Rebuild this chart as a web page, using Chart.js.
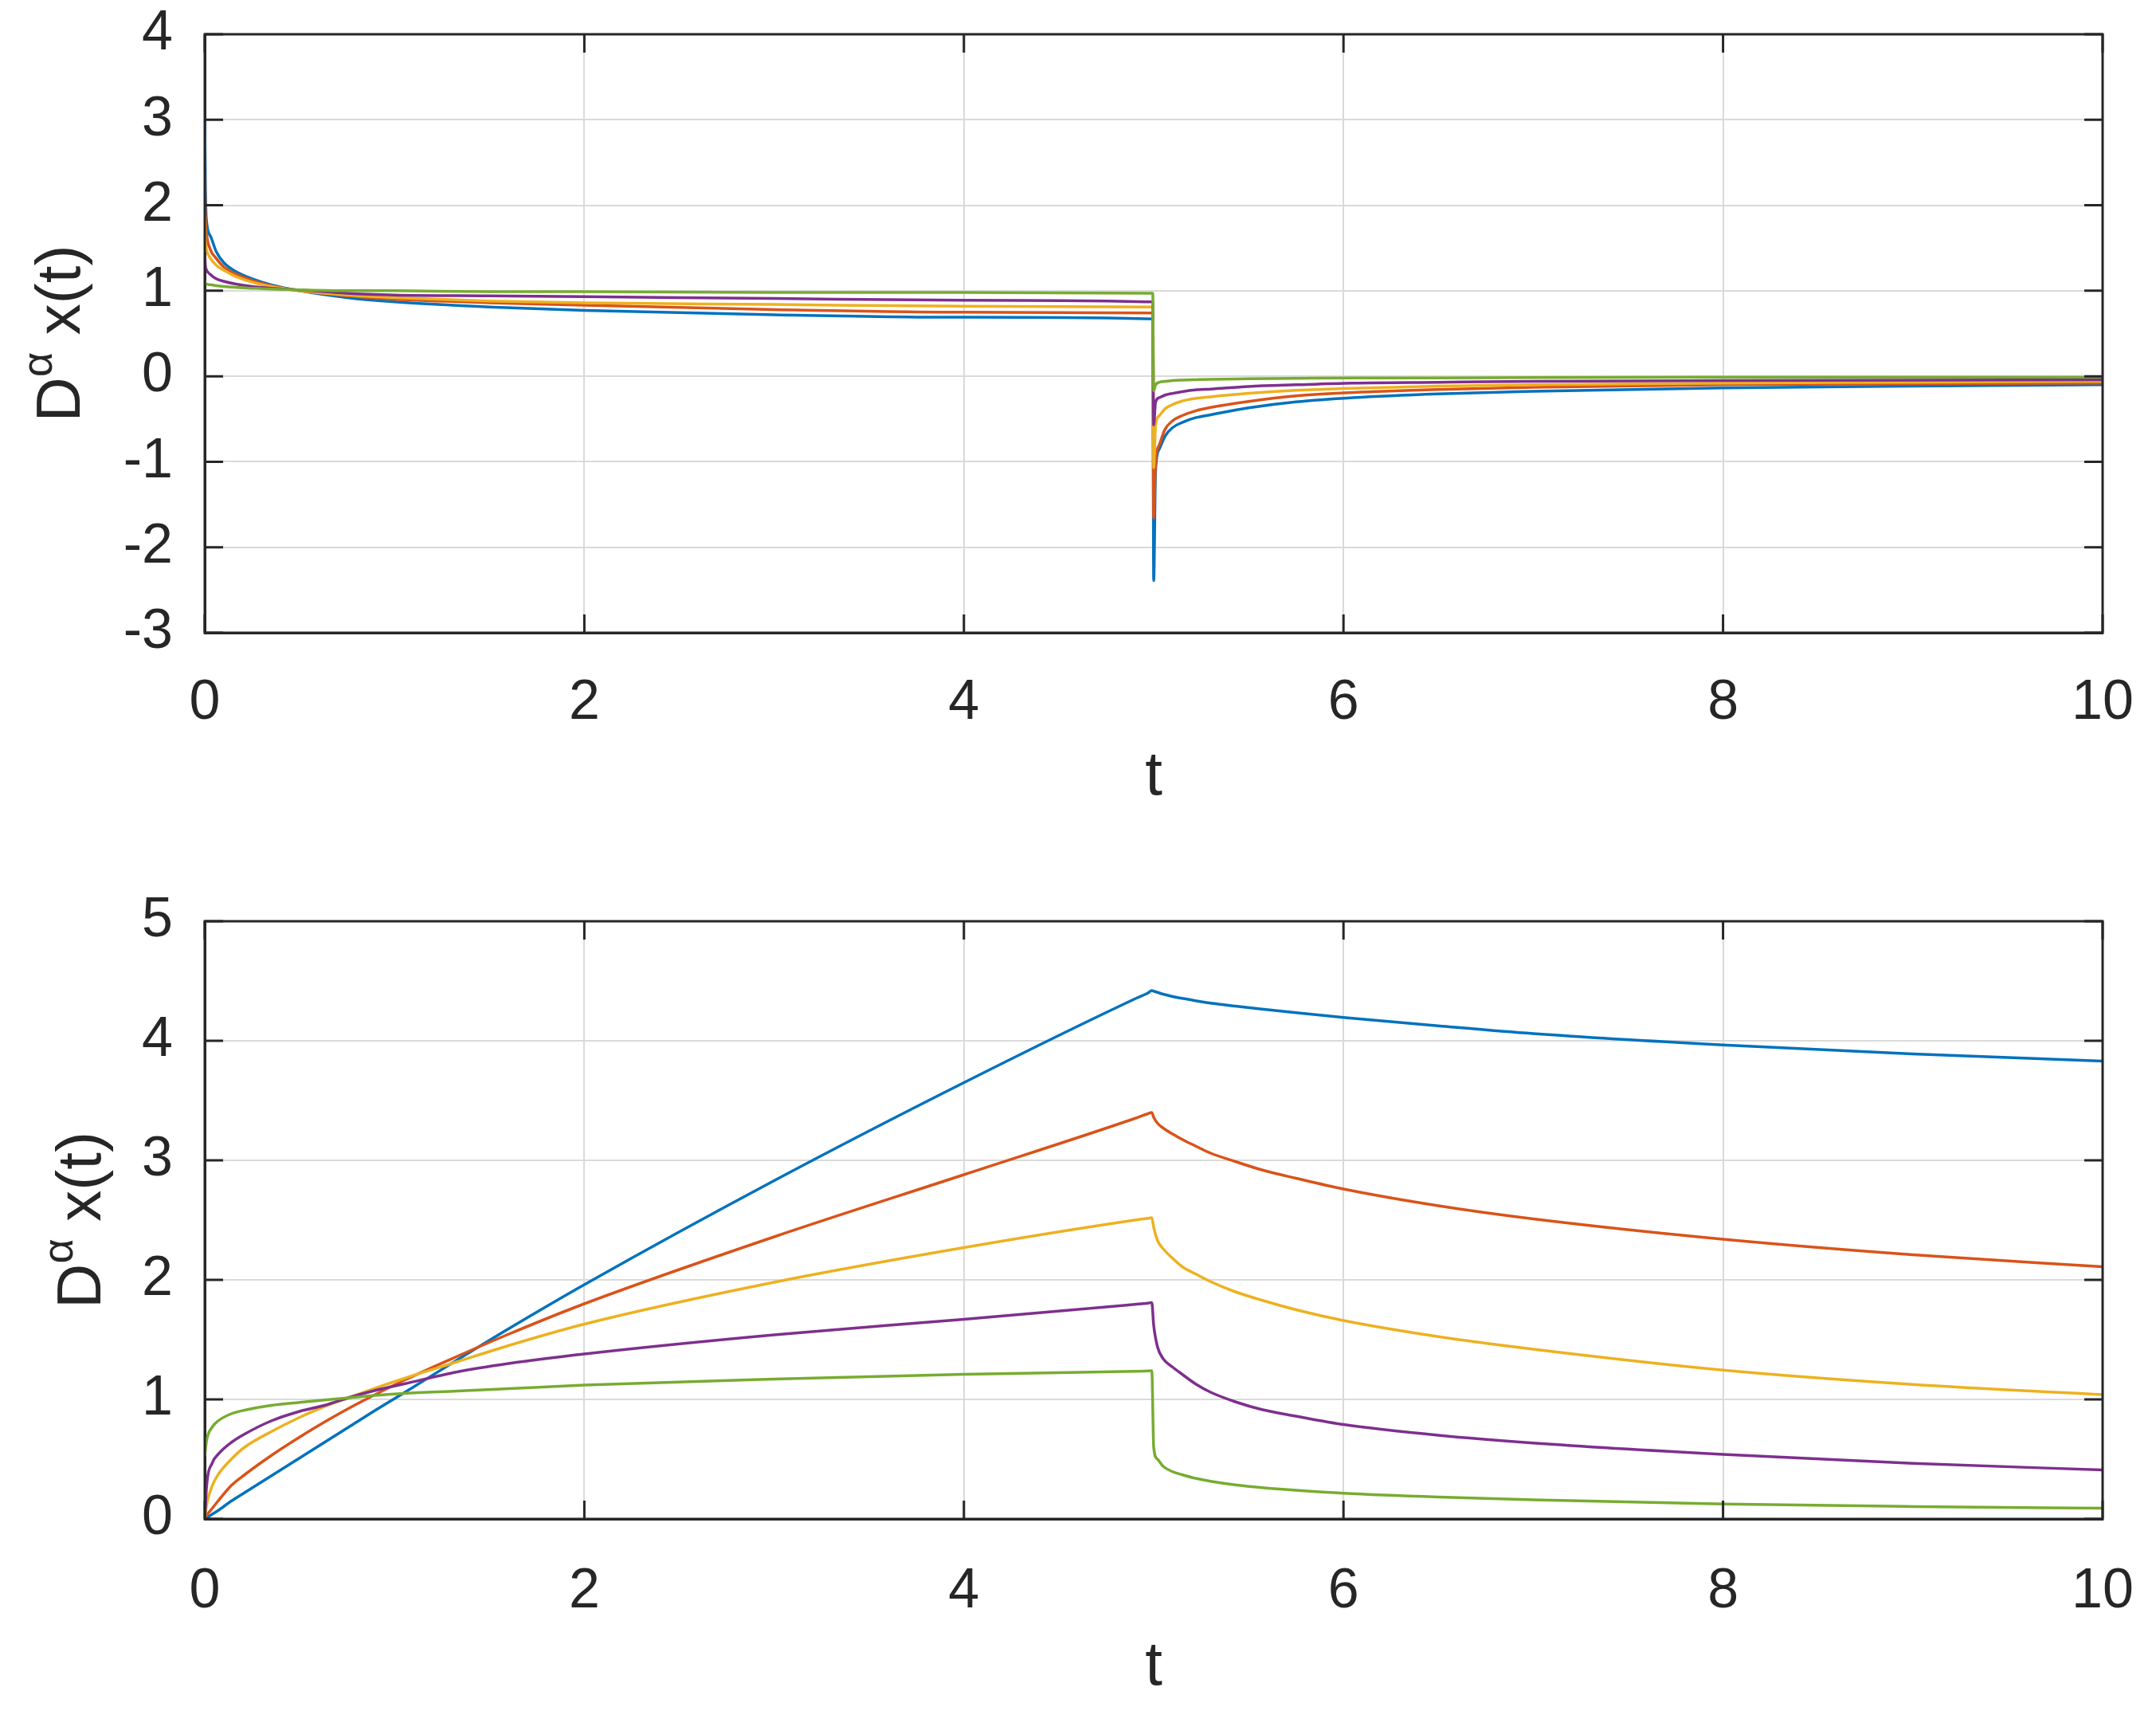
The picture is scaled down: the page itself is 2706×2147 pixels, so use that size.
<!DOCTYPE html>
<html lang="en">
<head>
    <meta charset="UTF-8">
    <title>D^a x(t)</title>
    <script src="https://cdn.jsdelivr.net/npm/chart.js"></script>
    <style>
        body { margin: 0; background: #ffffff; overflow: hidden; }
        .panel { position: absolute; left: 0; width: 2706px; }
        #topPanel { top: 0; height: 1073px; }
        #bottomPanel { top: 1073px; height: 1074px; }
    </style>
</head>
<body>
    <div class="panel" id="topPanel"><canvas id="topChart"></canvas></div>
    <div class="panel" id="bottomPanel"><canvas id="bottomChart"></canvas></div>

    <script>
        // top panel: step response
        const tTop = [0, 0.003, 0.008, 0.03, 0.06, 0.1, 0.16, 0.25, 0.35, 0.5, 0.75, 1, 1.5, 2, 3, 4, 4.995,
            5.0, 5.01, 5.03, 5.06, 5.1, 5.15, 5.22, 5.3, 5.5, 5.75, 6.05, 6.5, 7, 8, 9, 10];
        const topBlue = [3.0, 2.3, 1.85, 1.64, 1.46, 1.33, 1.23, 1.14, 1.07, 1.0, 0.92, 0.87, 0.81, 0.77, 0.72, 0.69, 0.67,
            -2.39, -1.1, -0.85, -0.70, -0.60, -0.54, -0.485, -0.45, -0.37, -0.30, -0.25, -0.205, -0.175, -0.135, -0.115, -0.10];
        const topRed = [2.36, 1.9, 1.7, 1.48, 1.38, 1.28, 1.20, 1.12, 1.06, 1.0, 0.94, 0.90, 0.86, 0.83, 0.78, 0.75, 0.74,
            -1.66, -1.0, -0.80, -0.62, -0.52, -0.46, -0.405, -0.365, -0.295, -0.23, -0.19, -0.155, -0.13, -0.10, -0.09, -0.08];
        const topYellow = [1.87, 1.6, 1.5, 1.38, 1.30, 1.24, 1.17, 1.10, 1.05, 1.0, 0.95, 0.92, 0.88, 0.86, 0.84, 0.82, 0.81,
            -1.07, -0.57, -0.46, -0.38, -0.33, -0.29, -0.26, -0.24, -0.20, -0.165, -0.14, -0.115, -0.10, -0.08, -0.07, -0.06];
        const topPurple = [1.44, 1.3, 1.25, 1.19, 1.14, 1.11, 1.08, 1.05, 1.03, 1.01, 0.97, 0.95, 0.94, 0.93, 0.91, 0.89, 0.87,
            -0.57, -0.30, -0.25, -0.22, -0.20, -0.18, -0.16, -0.15, -0.12, -0.10, -0.08, -0.07, -0.06, -0.05, -0.045, -0.04];
        const topGreen = [1.12, 1.09, 1.08, 1.07, 1.06, 1.05, 1.04, 1.03, 1.02, 1.01, 1.0, 1.0, 0.99, 0.99, 0.98, 0.98, 0.97,
            -0.17, -0.10, -0.07, -0.06, -0.05, -0.045, -0.04, -0.035, -0.03, -0.025, -0.02, -0.02, -0.015, -0.01, -0.01, -0.01];

        // bottom panel: ramp response
        const tBottom = [0, 0.01, 0.04, 0.07, 0.14, 0.21, 0.35, 0.5, 0.63, 0.77, 0.91, 1.05, 1.33, 1.6, 2, 3, 4, 4.9, 4.97, 4.99,
            5.0, 5.02, 5.05, 5.1, 5.15, 5.22, 5.3, 5.43, 5.57, 5.75, 6.0, 6.5, 7, 8, 9, 10];
        const bottomBlue = [0, 0.01, 0.04, 0.07, 0.15, 0.22, 0.36, 0.51, 0.64, 0.78, 0.92, 1.055, 1.33, 1.59, 1.96, 2.83, 3.65, 4.35, 4.40, 4.42,
            4.415, 4.405, 4.39, 4.37, 4.355, 4.335, 4.315, 4.29, 4.265, 4.235, 4.195, 4.125, 4.06, 3.965, 3.89, 3.83];
        const bottomRed = [0, 0.03, 0.09, 0.15, 0.28, 0.37, 0.53, 0.685, 0.81, 0.935, 1.05, 1.16, 1.36, 1.545, 1.80, 2.36, 2.88, 3.35, 3.39, 3.40,
            3.36, 3.31, 3.27, 3.22, 3.175, 3.12, 3.06, 2.99, 2.92, 2.85, 2.76, 2.62, 2.51, 2.34, 2.21, 2.11];
        const bottomYellow = [0, 0.12, 0.28, 0.37, 0.50, 0.60, 0.73, 0.85, 0.94, 1.02, 1.10, 1.175, 1.315, 1.45, 1.63, 1.98, 2.27, 2.50, 2.515, 2.52,
            2.44, 2.33, 2.26, 2.18, 2.11, 2.05, 1.985, 1.90, 1.83, 1.75, 1.66, 1.525, 1.42, 1.245, 1.125, 1.04];
        const bottomPurple = [0, 0.28, 0.47, 0.54, 0.64, 0.71, 0.82, 0.90, 0.95, 1.02, 1.08, 1.13, 1.23, 1.30, 1.38, 1.54, 1.67, 1.795, 1.805, 1.81,
            1.62, 1.44, 1.34, 1.27, 1.21, 1.13, 1.06, 0.98, 0.915, 0.86, 0.79, 0.70, 0.635, 0.54, 0.465, 0.41];
        const bottomGreen = [0.53, 0.66, 0.77, 0.82, 0.88, 0.91, 0.95, 0.975, 0.995, 1.015, 1.035, 1.05, 1.07, 1.09, 1.12, 1.17, 1.21, 1.235, 1.238, 1.24,
            0.60, 0.50, 0.44, 0.395, 0.37, 0.34, 0.315, 0.285, 0.262, 0.24, 0.215, 0.183, 0.16, 0.125, 0.104, 0.09];

        const xTicks = [0, 2, 4, 6, 8, 10];
        const topYTicks = [-3, -2, -1, 0, 1, 2, 3, 4];
        const bottomYTicks = [0, 1, 2, 3, 4, 5];

        const colors = ['#0072BD', '#D95319', '#EDB120', '#7E2F8E', '#77AC30'];
        const ink = '#262626';
        const fontFamily = '"Liberation Sans", Arial, Helvetica, sans-serif';

        const toPoints = (t, ys) => t.map((x, i) => ({ x: x, y: ys[i] }));

        function makeDatasets(t, series) {
            // last series on top, like the original
            return series.map((ys, i) => ({
                data: toPoints(t, ys),
                borderColor: colors[i],
                borderWidth: 3.5,
                pointRadius: 0,
                fill: false,
                cubicInterpolationMode: 'monotone',
                order: series.length - i
            }));
        }

        // MATLAB-style box with inward ticks on all four sides, plus the y label with a superscript
        const axesBox = {
            id: 'axesBox',
            afterDraw(chart, args, opts) {
                const { ctx, chartArea: a, scales } = chart;
                const len = 23;
                ctx.save();
                ctx.strokeStyle = ink;
                ctx.lineWidth = 3;
                ctx.beginPath();
                xTicks.forEach(v => {
                    const px = scales.x.getPixelForValue(v);
                    ctx.moveTo(px, a.bottom); ctx.lineTo(px, a.bottom - len);
                    ctx.moveTo(px, a.top); ctx.lineTo(px, a.top + len);
                });
                opts.yTicks.forEach(v => {
                    const py = scales.y.getPixelForValue(v);
                    ctx.moveTo(a.left, py); ctx.lineTo(a.left + len, py);
                    ctx.moveTo(a.right, py); ctx.lineTo(a.right - len, py);
                });
                ctx.stroke();
                ctx.strokeRect(a.left, a.top, a.right - a.left, a.bottom - a.top);

                // y label: D^α x(t), rotated
                const big = '78px ' + fontFamily;
                const small = '54px ' + fontFamily;
                ctx.font = big;
                const wD = ctx.measureText('D').width;
                const wRest = ctx.measureText(' x(t)').width;
                ctx.font = small;
                const wA = ctx.measureText('α').width;
                const total = wD + wA + wRest;
                ctx.translate(opts.labelX, (a.top + a.bottom) / 2);
                ctx.rotate(-Math.PI / 2);
                ctx.fillStyle = ink;
                ctx.textBaseline = 'alphabetic';
                let x = -total / 2;
                ctx.font = big; ctx.fillText('D', x, 0); x += wD;
                ctx.font = small; ctx.fillText('α', x, -35); x += wA;
                ctx.font = big; ctx.fillText(' x(t)', x, 0);
                ctx.restore();
            }
        };

        function makeChart(id, t, series, yMin, yMax, yTicks, cfg) {
            return new Chart(document.getElementById(id), {
                type: 'line',
                data: { datasets: makeDatasets(t, series) },
                plugins: [axesBox],
                options: {
                    responsive: true,
                    maintainAspectRatio: false,
                    devicePixelRatio: 1,
                    animation: false,
                    layout: { padding: { top: cfg.padTop, right: 67, left: 0, bottom: 0 } },
                    plugins: {
                        legend: { display: false },
                        tooltip: { enabled: false },
                        axesBox: { yTicks: yTicks, labelX: cfg.labelX }
                    },
                    scales: {
                        x: {
                            type: 'linear',
                            min: 0, max: 10,
                            afterFit: s => {
                                s.height = cfg.xHeight;
                                s.paddingLeft = 0; s.paddingRight = 0;
                            },
                            ticks: {
                                stepSize: 2, autoSkip: false, maxRotation: 0,
                                padding: cfg.xTickPad,
                                color: ink,
                                font: { family: fontFamily, size: 70 }
                            },
                            grid: { color: '#dadada', lineWidth: 2, drawTicks: false },
                            border: { display: true, color: ink, width: 3 },
                            title: {
                                display: true, text: 't', color: ink,
                                font: { family: fontFamily, size: 78 },
                                padding: { top: 0, bottom: cfg.titlePad }
                            }
                        },
                        y: {
                            min: yMin, max: yMax,
                            afterFit: s => {
                                s.width = 257;
                                s.paddingTop = 0; s.paddingBottom = 0;
                            },
                            ticks: {
                                stepSize: 1, autoSkip: false,
                                padding: 40,
                                color: ink,
                                font: { family: fontFamily, size: 70 },
                                callback: v => String(v)
                            },
                            grid: { color: '#dadada', lineWidth: 2, drawTicks: false },
                            border: { display: true, color: ink, width: 3 }
                        }
                    }
                }
            });
        }

        makeChart('topChart', tTop, [topBlue, topRed, topYellow, topPurple, topGreen], -3, 4, topYTicks,
            { padTop: 43, xHeight: 279, xTickPad: 47, titlePad: 51, labelX: 100 });
        makeChart('bottomChart', tBottom, [bottomBlue, bottomRed, bottomYellow, bottomPurple, bottomGreen], 0, 5, bottomYTicks,
            { padTop: 83, xHeight: 241, xTickPad: 50, titlePad: 8, labelX: 126 });
    </script>
</body>
</html>
